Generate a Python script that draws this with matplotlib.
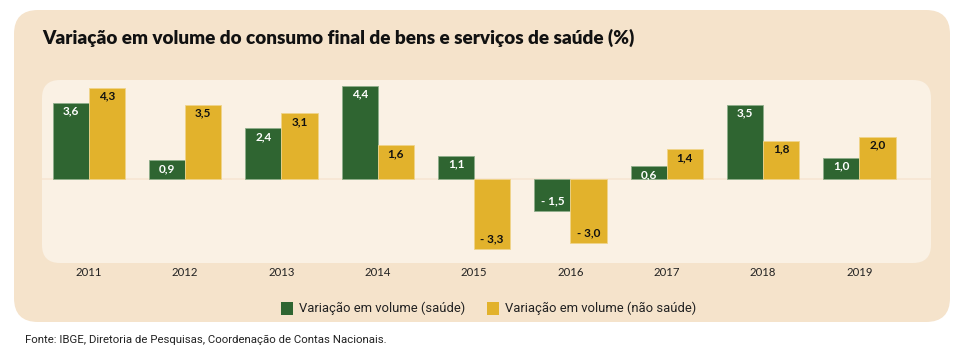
import numpy as np
import matplotlib.pyplot as plt
from matplotlib.patches import FancyBboxPatch, Rectangle

# data
anos = ['2011', '2012', '2013', '2014', '2015', '2016', '2017', '2018', '2019']
saude = [3.6, 0.9, 2.4, 4.4, 1.1, -1.5, 0.6, 3.5, 1.0]
nao_saude = [4.3, 3.5, 3.1, 1.6, -3.3, -3.0, 1.4, 1.8, 2.0]

titulo = 'Variação em volume do consumo final de bens e serviços de saúde (%)'
leg_saude = 'Variação em volume (saúde)'
leg_nao_saude = 'Variação em volume (não saúde)'
fonte = 'Fonte: IBGE, Diretoria de Pesquisas, Coordenação de Contas Nacionais.'

verde = '#2F6531'
amarelo = '#E2B22C'
bg_out = '#F5E3CB'
bg_in = '#FAF1E4'

W, H = 961, 355
fig = plt.figure(figsize=(W / 100, H / 100), dpi=100)
fig.patch.set_facecolor('white')

# background in pixel coordinates
bg = fig.add_axes([0, 0, 1, 1])
bg.set_xlim(0, W)
bg.set_ylim(H, 0)
bg.axis('off')
bg.add_patch(FancyBboxPatch((14, 10), 936, 312, boxstyle='round,pad=0,rounding_size=24',
                            fc=bg_out, ec='none'))
bg.add_patch(FancyBboxPatch((42, 80), 889, 183, boxstyle='round,pad=0,rounding_size=18',
                            fc=bg_in, ec='none'))

bg.text(42, 38, titulo, fontsize=13.6, fontweight='heavy', family=['Lato', 'DejaVu Sans'],
        va='center', ha='left', color='#111111')

# legend
narrow = ['Roboto', 'DejaVu Sans']
bg.add_patch(Rectangle((281, 302), 12, 13, fc=verde, ec='none'))
bg.text(299, 308.5, leg_saude, fontsize=9.4, family=narrow, va='center', ha='left', color='#222222')
bg.add_patch(Rectangle((487, 302), 12, 13, fc=amarelo, ec='none'))
bg.text(505, 308.5, leg_nao_saude, fontsize=9.4, family=narrow, va='center', ha='left', color='#222222')

bg.text(25, 340, fonte, fontsize=8.2, family=narrow, va='center', ha='left', color='#222222')

# chart axes
l, r, t, b = 41.7, 930.7, 80, 263
ax = fig.add_axes([l / W, (H - b) / H, (r - l) / W, (b - t) / H])
ax.patch.set_alpha(0)
x = np.arange(len(anos))
w = 0.375
ax.set_xlim(-0.488, 8.74)
ax.set_ylim(-3.96, 4.67)
ax.axhline(0, color='#F7E6D2', lw=1.2, zorder=1)
ax.bar(x - w / 2, saude, w, color=verde, edgecolor='#8FAE8A', linewidth=0.6, zorder=2)
ax.bar(x + w / 2, nao_saude, w, color=amarelo, edgecolor='#F0D48A', linewidth=0.6, zorder=2)


def fmt(v):
    s = f'{abs(v):.1f}'.replace('.', ',')
    return ('- ' + s) if v < 0 else s


for xi, v in zip(x, saude):
    y = v - 0.4 if v > 0 else v + 0.48
    ax.text(xi - w / 2, y, fmt(v), ha='center', va='center', fontsize=8.5,
            fontweight='bold', color='white', family=['Lato', 'DejaVu Sans'])
for xi, v in zip(x, nao_saude):
    y = v - 0.4 if v > 0 else v + 0.48
    ax.text(xi + w / 2, y, fmt(v), ha='center', va='center', fontsize=8.5,
            fontweight='bold', color='#111111', family=['Lato', 'DejaVu Sans'])

ax.set_xticks(x)
ax.set_xticklabels(anos, fontsize=8.2, family=['Lato', 'DejaVu Sans'], color='#222222')
ax.tick_params(axis='x', length=0, pad=3)
ax.set_yticks([])
for s in ax.spines.values():
    s.set_visible(False)

fig.savefig('out.png', dpi=100, facecolor='white')
